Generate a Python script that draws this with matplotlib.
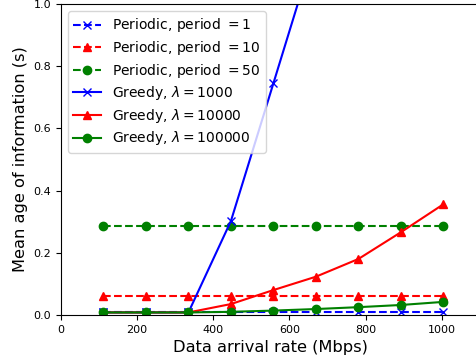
import numpy as np
import matplotlib
matplotlib.use('Agg')
import matplotlib.pyplot as plt

# data arrival rate (Mbps)
rate = [111.6, 223.2, 334.8, 446.4, 558.0, 669.6, 781.2, 892.8, 1004.4]

# periodic schedules
periodic_1 = [0.008, 0.008, 0.008, 0.008, 0.008, 0.008, 0.008, 0.008, 0.008]
periodic_10 = [0.060, 0.060, 0.060, 0.060, 0.060, 0.060, 0.060, 0.060, 0.060]
periodic_50 = [0.285, 0.285, 0.285, 0.285, 0.285, 0.285, 0.285, 0.285, 0.285]

# greedy schedules
greedy_1000 = [0.008, 0.008, 0.008, 0.302, 0.745, 1.19, 1.65, 2.10, 2.60]
greedy_10000 = [0.008, 0.008, 0.008, 0.035, 0.080, 0.123, 0.180, 0.266, 0.356]
greedy_100000 = [0.008, 0.008, 0.008, 0.010, 0.014, 0.019, 0.025, 0.032, 0.042]

fig = plt.figure(figsize=(4.76, 3.62), dpi=100)
ax = fig.add_axes([0.128, 0.130, 0.880, 0.859])

ax.plot(rate, periodic_1, 'bx--', label=r'Periodic, period $=1$')
ax.plot(rate, periodic_10, 'r^--', label=r'Periodic, period $=10$')
ax.plot(rate, periodic_50, 'go--', label=r'Periodic, period $=50$')
ax.plot(rate, greedy_1000, 'bx-', label=r'Greedy, $\lambda=1000$')
ax.plot(rate, greedy_10000, 'r^-', label=r'Greedy, $\lambda=10000$')
ax.plot(rate, greedy_100000, 'go-', label=r'Greedy, $\lambda=100000$')

ax.set_xlim(0, 1100)
ax.set_ylim(0, 1.0)
ax.set_xticks([0, 200, 400, 600, 800, 1000])
ax.set_yticks([0.0, 0.2, 0.4, 0.6, 0.8, 1.0])
ax.tick_params(labelsize=8)
ax.set_xlabel('Data arrival rate (Mbps)', fontsize=11.7)
ax.set_ylabel('Mean age of information (s)', fontsize=11.7)
ax.legend(loc='upper left', fontsize=10, labelspacing=0.33)

fig.savefig('out.png', dpi=100)
